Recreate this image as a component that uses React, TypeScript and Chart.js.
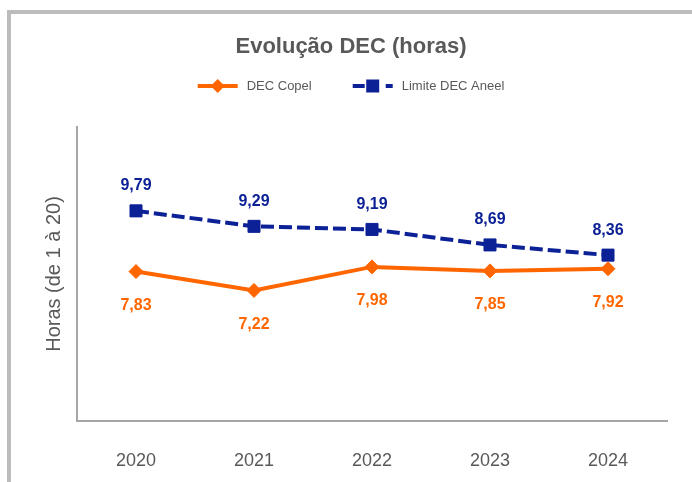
import React, { useEffect, useRef } from 'react';
import { Chart, registerables } from 'chart.js';

Chart.register(...registerables);

const categories = ['2020', '2021', '2022', '2023', '2024'];
const decCopel = [7.83, 7.22, 7.98, 7.85, 7.92];
const limiteAneel = [9.79, 9.29, 9.19, 8.69, 8.36];
const seriesLabels = ['DEC Copel', 'Limite DEC Aneel'];
const chartTitle = 'Evolução DEC (horas)';
const yAxisTitle = 'Horas (de 1 à 20)';
const yMin = 3;
const yMax = 12.5;

const ORANGE = '#FF6600';
const NAVY = '#0C2196';
const TEXT = '#595959';
const AXIS = '#a6a6a6';
const FONT = "'Liberation Sans', Arial, Helvetica, sans-serif";

const fmt = (v: number) => v.toFixed(2).replace('.', ',');

const dataLabelPlugin = {
  id: 'dataLabels',
  afterDatasetsDraw(chart: any) {
    const ctx = chart.ctx;
    chart.data.datasets.forEach((ds: any, i: number) => {
      const meta = chart.getDatasetMeta(i);
      ctx.save();
      ctx.font = `bold 16px ${FONT}`;
      ctx.fillStyle = ds.borderColor;
      ctx.textAlign = 'center';
      ctx.textBaseline = 'middle';
      meta.data.forEach((pt: any, j: number) => {
        ctx.fillText(fmt(ds.data[j]), pt.x, pt.y + ds.labelOffset);
      });
      ctx.restore();
    });
  },
};

const lineLegendPlugin = {
  id: 'lineLegend',
  afterDraw(chart: any) {
    const ctx = chart.ctx;
    const sw = 40;
    const gapText = 9;
    const gapItem = 41;
    const y = 86;
    const pad = chart.options.layout.padding;
    ctx.save();
    ctx.font = `13px ${FONT}`;
    const items = chart.data.datasets.map((ds: any) => ({ ds, w: ctx.measureText(ds.label).width }));
    const total =
      items.reduce((s: number, it: any) => s + sw + gapText + it.w, 0) + gapItem * (items.length - 1);
    const cx = (pad.left + chart.width - pad.right) / 2;
    let x = cx - total / 2;
    items.forEach(({ ds, w }: any) => {
      const mid = x + sw / 2;
      ctx.strokeStyle = ds.borderColor;
      ctx.fillStyle = ds.borderColor;
      ctx.lineWidth = 4;
      ctx.setLineDash([]);
      ctx.beginPath();
      if (ds.borderDash && ds.borderDash.length) {
        ctx.moveTo(x, y);
        ctx.lineTo(x + 12, y);
        ctx.moveTo(x + 33, y);
        ctx.lineTo(x + sw, y);
      } else {
        ctx.moveTo(x, y);
        ctx.lineTo(x + sw, y);
      }
      ctx.stroke();
      ctx.beginPath();
      if (ds.pointStyle === 'rect') {
        ctx.rect(mid - 6.5, y - 6.5, 13, 13);
      } else {
        const r = 7;
        ctx.moveTo(mid - r, y);
        ctx.lineTo(mid, y - r);
        ctx.lineTo(mid + r, y);
        ctx.lineTo(mid, y + r);
        ctx.closePath();
      }
      ctx.fill();
      ctx.fillStyle = TEXT;
      ctx.textAlign = 'left';
      ctx.textBaseline = 'middle';
      ctx.fillText(ds.label, x + sw + gapText, y);
      x += sw + gapText + w + gapItem;
    });
    ctx.restore();
  },
};

export default function App() {
  const ref = useRef<HTMLCanvasElement | null>(null);

  useEffect(() => {
    if (!ref.current) return;
    const chart = new Chart(ref.current, {
      type: 'line',
      data: {
        labels: categories,
        datasets: [
          {
            label: seriesLabels[0],
            data: decCopel,
            borderColor: ORANGE,
            backgroundColor: ORANGE,
            borderWidth: 4,
            pointStyle: 'rectRot',
            pointRadius: 7,
            pointBorderWidth: 1,
            pointBackgroundColor: ORANGE,
            pointBorderColor: ORANGE,
            tension: 0,
            labelOffset: 34,
          } as any,
          {
            label: seriesLabels[1],
            data: limiteAneel,
            borderColor: NAVY,
            backgroundColor: NAVY,
            borderWidth: 4,
            borderDash: [13, 5],
            pointStyle: 'rect',
            pointRadius: 8.5,
            pointBorderWidth: 1,
            pointBackgroundColor: NAVY,
            pointBorderColor: NAVY,
            tension: 0,
            labelOffset: -25,
          } as any,
        ],
      },
      options: {
        animation: false,
        responsive: false,
        maintainAspectRatio: false,
        layout: { padding: { left: 35, right: 25, top: 0, bottom: 0 } },
        plugins: {
          legend: { display: false },
          tooltip: { enabled: false },
          title: {
            display: true,
            text: chartTitle,
            color: TEXT,
            font: { family: FONT, size: 22, weight: 'bold' },
            padding: { top: 34, bottom: 66.6 },
          },
        },
        scales: {
          x: {
            offset: true,
            grid: { display: false },
            border: { display: true, color: AXIS, width: 2 },
            ticks: { color: TEXT, font: { family: FONT, size: 18 }, padding: 21 },
            afterFit: (scale: any) => {
              scale.height = 61;
            },
          },
          y: {
            min: yMin,
            max: yMax,
            grid: { display: false },
            border: { display: true, color: AXIS, width: 2 },
            ticks: { display: false },
            title: {
              display: true,
              text: yAxisTitle,
              color: TEXT,
              font: { family: FONT, size: 20 },
              padding: { top: 7, bottom: 0 },
            },
            afterFit: (scale: any) => {
              scale.width = 42;
            },
          },
        },
      },
      plugins: [dataLabelPlugin, lineLegendPlugin],
    });
    return () => chart.destroy();
  }, []);

  return (
    <div style={{ position: 'absolute', left: 0, top: 0, width: 692, height: 482, overflow: 'hidden', background: '#fff' }}>
      <div
        style={{
          position: 'absolute',
          left: 7,
          top: 10,
          width: 700,
          height: 480,
          borderLeft: '4px solid #bcbcbc',
          borderTop: '4px solid #bcbcbc',
        }}
      />
      <canvas ref={ref} width={692} height={482} style={{ position: 'absolute', left: 0, top: 0, width: 692, height: 482 }} />
    </div>
  );
}
